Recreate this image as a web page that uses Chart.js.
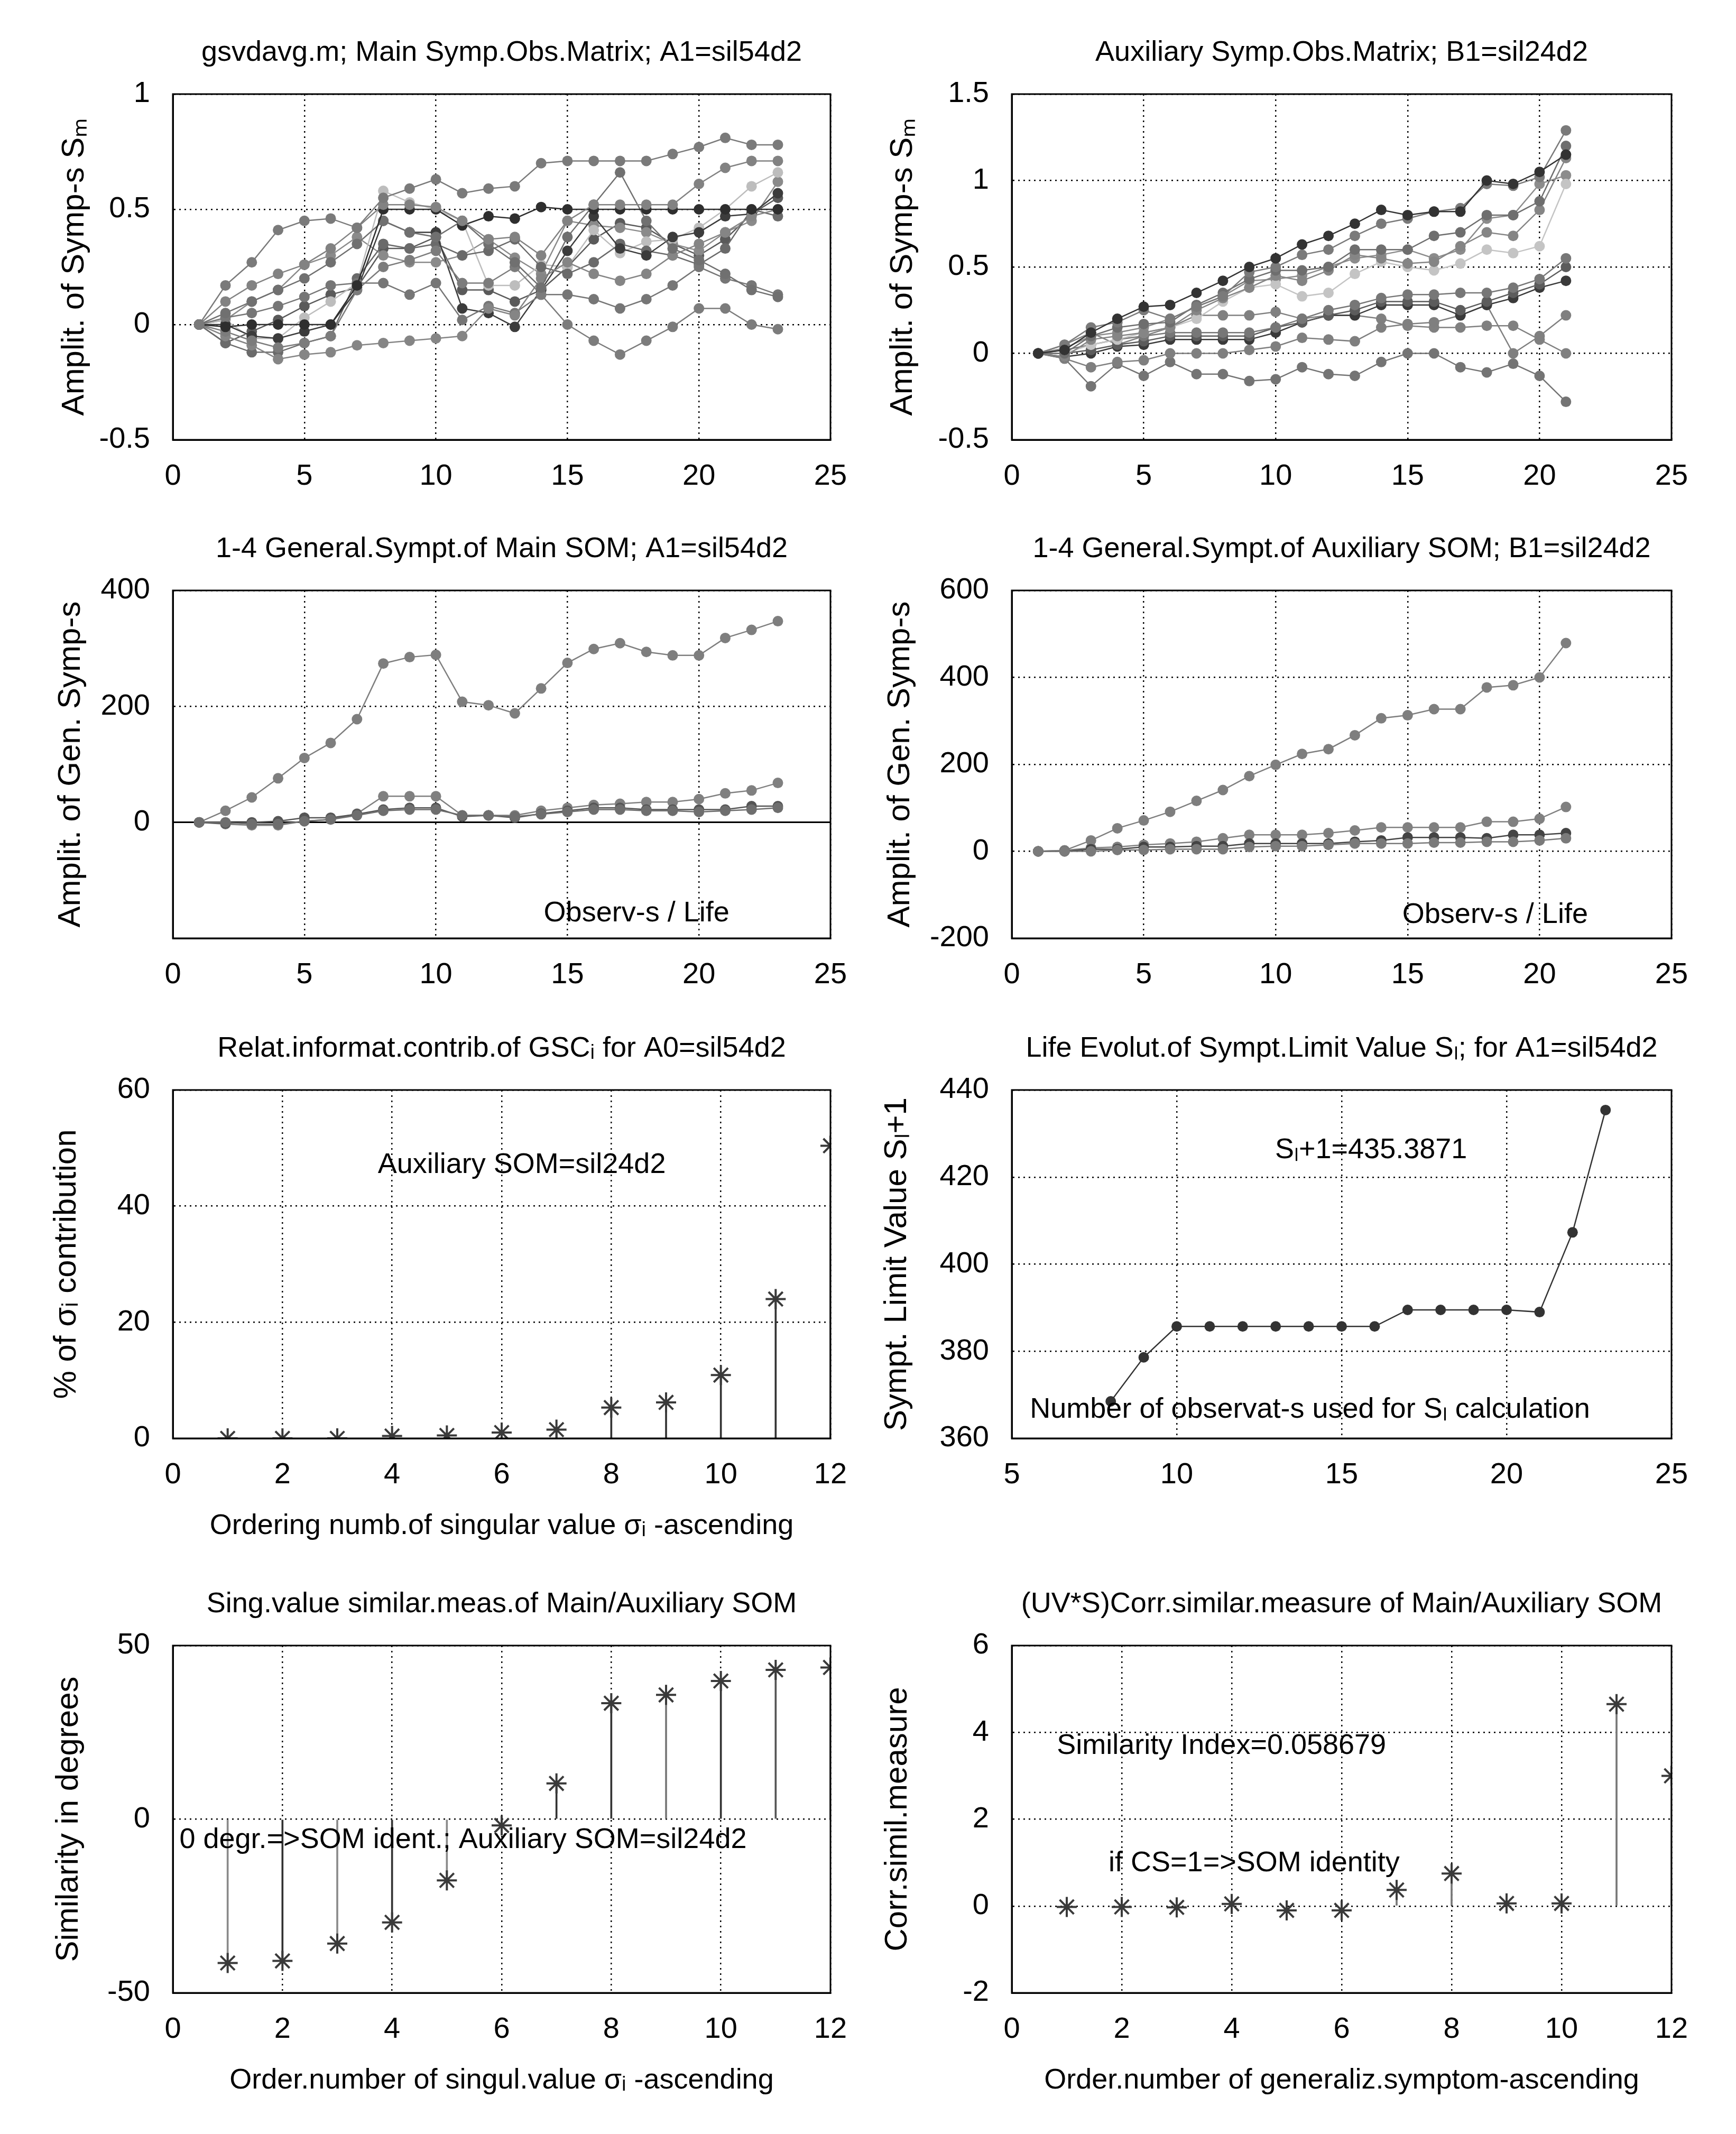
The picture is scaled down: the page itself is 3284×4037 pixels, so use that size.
<!DOCTYPE html>
<html>
<head>
<meta charset="utf-8">
<script src="https://cdn.jsdelivr.net/npm/chart.js@4.4.1/dist/chart.umd.min.js"></script>
<style>
  html, body { margin: 0; padding: 0; background: #fff; }
  body { position: relative; width: 3284px; height: 4037px; overflow: hidden; }
</style>
</head>
<body>
<script>
// ---------------- DATA ----------------
const obsMain = [1,2,3,4,5,6,7,8,9,10,11,12,13,14,15,16,17,18,19,20,21,22,23];
const obsAux  = [1,2,3,4,5,6,7,8,9,10,11,12,13,14,15,16,17,18,19,20,21];

// Panel 1: main symptom observation matrix (12 symptoms)
const mainS1  = [0,0.17,0.27,0.41,0.45,0.46,0.42,0.55,0.59,0.63,0.57,0.59,0.60,0.70,0.71,0.71,0.71,0.71,0.74,0.77,0.81,0.78,0.78];
const mainS2  = [0,0.10,0.17,0.22,0.26,0.33,0.42,0.52,0.52,0.51,0.45,0.37,0.38,0.30,0.45,0.52,0.52,0.52,0.52,0.61,0.68,0.71,0.71];
const mainS3  = [0,-0.01,0.00,0.00,0.00,0.00,0.17,0.50,0.50,0.50,0.43,0.47,0.46,0.51,0.50,0.50,0.50,0.50,0.50,0.50,0.50,0.50,0.50];
const mainS4  = [0,0.05,0.10,0.15,0.20,0.27,0.35,0.45,0.40,0.38,0.45,0.35,0.27,0.16,0.38,0.52,0.66,0.45,0.33,0.28,0.22,0.15,0.12];
const mainS5  = [0,-0.03,-0.07,-0.10,-0.08,-0.05,0.15,0.25,0.28,0.32,0.18,0.18,0.25,0.13,0.00,-0.07,-0.13,-0.07,-0.01,0.07,0.07,0.00,-0.02];
const mainS6  = [0,-0.05,-0.09,-0.15,-0.13,-0.12,-0.09,-0.08,-0.07,-0.06,-0.05,0.07,0.04,0.20,0.27,0.22,0.19,0.22,0.30,0.35,0.40,0.47,0.50];
const mainS7  = [0,0.03,0.05,0.08,0.12,0.17,0.18,0.18,0.13,0.18,0.02,0.08,0.05,0.13,0.13,0.11,0.07,0.11,0.17,0.25,0.20,0.17,0.13];
const mainS8  = [0,0.00,-0.05,-0.06,-0.03,0.00,0.15,0.45,0.40,0.40,0.07,0.05,-0.01,0.15,0.32,0.47,0.33,0.30,0.38,0.40,0.47,0.48,0.57];
const mainS9  = [0,-0.08,-0.12,-0.12,-0.08,-0.05,0.20,0.35,0.33,0.35,0.30,0.32,0.37,0.25,0.22,0.27,0.35,0.32,0.30,0.26,0.33,0.50,0.47];
const mainS10 = [0,0.02,-0.06,-0.06,0.03,0.10,0.18,0.58,0.53,0.50,0.45,0.17,0.17,0.26,0.25,0.41,0.31,0.36,0.37,0.42,0.50,0.60,0.66];
const mainS11 = [0,0.02,0.10,0.15,0.26,0.30,0.38,0.30,0.27,0.27,0.30,0.37,0.29,0.22,0.45,0.43,0.42,0.40,0.35,0.32,0.40,0.45,0.62];
const mainS12 = [0,-0.08,-0.03,0.02,0.08,0.13,0.16,0.33,0.33,0.38,0.15,0.15,0.10,0.15,0.25,0.37,0.44,0.42,0.35,0.30,0.37,0.48,0.55];

// Panel 2: auxiliary symptom observation matrix (12 symptoms)
const auxS1  = [0,0.02,0.12,0.20,0.27,0.28,0.35,0.42,0.50,0.55,0.63,0.68,0.75,0.83,0.80,0.82,0.82,1.00,0.98,1.05,1.15];
const auxS2  = [0,0.05,0.15,0.18,0.25,0.20,0.27,0.33,0.47,0.50,0.57,0.60,0.68,0.75,0.78,0.82,0.84,0.98,0.97,1.02,1.29];
const auxS3  = [0,0.00,0.10,0.15,0.17,0.18,0.28,0.35,0.43,0.48,0.48,0.50,0.60,0.60,0.60,0.68,0.70,0.80,0.80,0.88,1.20];
const auxS4  = [0,-0.02,0.08,0.10,0.12,0.15,0.25,0.32,0.38,0.45,0.42,0.48,0.57,0.55,0.52,0.53,0.62,0.70,0.68,0.83,1.13];
const auxS5  = [0,0.00,0.05,0.08,0.12,0.15,0.20,0.30,0.38,0.40,0.33,0.35,0.46,0.53,0.50,0.48,0.52,0.60,0.58,0.62,0.98];
const auxS6  = [0,0.03,0.10,0.12,0.15,0.20,0.27,0.33,0.42,0.43,0.45,0.50,0.55,0.57,0.60,0.55,0.60,0.78,0.80,0.98,1.03];
const auxS7  = [0,0.02,0.05,0.08,0.10,0.12,0.12,0.12,0.12,0.15,0.20,0.25,0.28,0.32,0.34,0.34,0.35,0.35,0.38,0.43,0.55];
const auxS8  = [0,0.00,0.02,0.05,0.07,0.10,0.10,0.10,0.10,0.15,0.18,0.22,0.25,0.30,0.30,0.30,0.25,0.30,0.35,0.40,0.50];
const auxS9  = [0,-0.02,0.00,0.04,0.05,0.08,0.08,0.08,0.08,0.12,0.18,0.22,0.22,0.28,0.28,0.28,0.22,0.28,0.32,0.38,0.42];
const auxS10 = [0,-0.03,-0.08,-0.05,-0.04,0.00,0.00,0.00,0.02,0.04,0.09,0.08,0.07,0.15,0.17,0.18,0.22,0.28,0.00,0.10,0.22];
const auxS11 = [0,0.05,0.12,0.05,0.10,0.15,0.22,0.22,0.22,0.24,0.20,0.22,0.22,0.20,0.16,0.15,0.15,0.16,0.16,0.08,0.00];
const auxS12 = [0,-0.03,-0.19,-0.06,-0.13,-0.05,-0.12,-0.12,-0.16,-0.15,-0.08,-0.12,-0.13,-0.05,0.00,0.00,-0.08,-0.11,-0.06,-0.13,-0.28];

// Panel 3: 1-4 generalized symptoms of main SOM
const mainGen1 = [0,20,43,76,111,137,178,274,285,289,208,202,188,231,275,299,309,294,288,288,318,332,347];
const mainGen2 = [0,-3,-5,-5,2,5,15,45,45,45,12,12,12,20,25,30,32,35,35,40,50,55,68];
const mainGen3 = [0,-2,0,2,8,8,14,22,25,25,10,12,8,15,20,25,25,22,22,22,22,28,28];
const mainGen4 = [0,0,-3,-3,2,5,12,20,22,22,12,12,10,14,18,22,22,20,20,18,20,22,25];

// Panel 4: 1-4 generalized symptoms of auxiliary SOM
const auxGen1 = [0,2,25,53,71,91,116,141,173,199,224,235,267,306,313,327,327,377,382,400,479];
const auxGen2 = [0,2,8,10,15,18,22,30,38,38,38,42,48,55,55,55,55,68,68,75,102];
const auxGen3 = [0,0,5,5,10,10,12,12,18,18,18,18,22,25,32,32,32,30,38,38,42];
const auxGen4 = [0,0,0,3,3,5,5,5,10,12,12,15,18,18,18,20,20,22,22,25,30];

// Panel 5: relative information contribution of singular values
const singOrder = [1,2,3,4,5,6,7,8,9,10,11,12];
const sigmaContribPct = [0.0,0.0,0.0,0.4,0.5,1.0,1.5,5.3,6.2,10.9,24.0,50.4];

// Panel 6: life evolution of symptom limit value
const limitObs = [8,9,10,11,12,13,14,15,16,17,18,19,20,21,22,23];
const limitValue = [368.5,378.6,385.7,385.7,385.7,385.7,385.7,385.7,385.7,389.5,389.5,389.5,389.5,389.0,407.3,435.4];

// Panel 7: singular value similarity (degrees)
const similarityDeg = [-41.4,-40.8,-35.8,-29.7,-17.6,-1.8,10.3,33.4,35.8,39.8,43.0,43.7];

// Panel 8: correlation similarity measure
const genSymOrder = [1,2,3,4,5,6,7,8,9,10,11,12];
const corrSimil = [-0.02,-0.02,-0.03,0.05,-0.10,-0.10,0.37,0.75,0.06,0.06,4.65,3.00];

// ---------------- STYLE / HELPERS ----------------
const FN = "'Liberation Sans', Arial, sans-serif";
const FW = "'Liberation Sans', Arial, sans-serif";
const TS = 54, TLH = TS * 1.2;   // title
const YS = 60, YLH = YS * 1.2;   // y title
const XS = 54, XLH = XS * 1.2;   // x title
const TK = 56;                   // tick labels
const ANN = 54;                  // annotation text

function xy(xs, ys) { return xs.map((x, i) => ({x: x, y: ys[i]})); }

function lineSet(xs, ys, color) {
  return {type: 'scatter', data: xy(xs, ys), showLine: true, borderColor: color, borderWidth: 2.5,
          pointRadius: 10, pointBackgroundColor: color, pointBorderColor: color, pointBorderWidth: 0};
}
function stemBars(xs, ys, colors) {
  return {type: 'bar', data: xy(xs, ys), backgroundColor: colors, borderWidth: 0, barThickness: 3, grouped: false};
}
function stars(xs, ys, colors) {
  return {type: 'scatter', data: xy(xs, ys), showLine: false, pointStyle: 'star', pointRadius: 19,
          pointBorderColor: colors, pointBorderWidth: 4, pointBackgroundColor: colors};
}

const framePlugin = {
  id: 'frame',
  afterDraw(chart) {
    const a = chart.chartArea, ctx = chart.ctx;
    ctx.save();
    ctx.strokeStyle = '#000'; ctx.lineWidth = 3;
    ctx.strokeRect(a.left, a.top, a.right - a.left, a.bottom - a.top);
    ctx.restore();
  }
};
const annotPlugin = {
  id: 'annot',
  afterDatasetsDraw(chart) {
    const list = (chart.config.options.annotations || []);
    const ctx = chart.ctx, xs = chart.scales.x, ys = chart.scales.y;
    ctx.save();
    ctx.fillStyle = '#000';
    ctx.font = ANN + 'px ' + FN;
    ctx.textBaseline = 'middle';
    ctx.textAlign = 'left';
    list.forEach(t => ctx.fillText(t.text, xs.getPixelForValue(t.x), ys.getPixelForValue(t.y)));
    ctx.restore();
  }
};

const DOT = [3, 7];

function build(sp) {
  const cv = document.createElement('canvas');
  cv.width = sp.w; cv.height = sp.h;
  cv.style.position = 'absolute';
  cv.style.left = sp.x + 'px'; cv.style.top = sp.y + 'px';
  cv.style.width = sp.w + 'px'; cv.style.height = sp.h + 'px';
  document.body.appendChild(cv);

  const W = sp.yDist + YLH / 2;
  const H = sp.xTitle ? 166 + XLH / 2 : 110;
  const pad = {
    left: sp.pLeft - W,
    right: sp.w - sp.pRight,
    top: sp.pTop - 78 - TLH / 2,
    bottom: sp.h - sp.pBottom - H
  };
  const yDash = sp.zeroSolid ? (c => (c.tick && c.tick.value === 0) ? [] : DOT) : DOT;
  const yWidth = sp.zeroSolid ? (c => (c.tick && c.tick.value === 0) ? 3 : 2.5) : 2.5;

  new Chart(cv.getContext('2d'), {
    type: 'scatter',
    data: {datasets: sp.datasets},
    options: {
      responsive: false, animation: false, devicePixelRatio: 1,
      annotations: sp.annotations || [],
      layout: {padding: pad},
      plugins: {
        legend: {display: false}, tooltip: {enabled: false},
        title: {display: true, text: sp.title, color: '#000', fullSize: false,
                font: {family: FN, size: TS, weight: 'normal'},
                padding: {top: 0, bottom: 78 - TLH / 2}}
      },
      scales: {
        x: {
          type: 'linear', min: sp.xMin, max: sp.xMax, offset: false,
          ticks: {stepSize: sp.xStep, color: '#000', font: {family: FN, size: TK}, padding: 36,
                  maxRotation: 0, autoSkip: false},
          grid: {color: '#000', lineWidth: 2.5, drawTicks: false, offset: false},
          border: {display: true, color: '#000', width: 3, dash: DOT},
          title: sp.xTitle ? {display: true, text: sp.xTitle, color: '#000',
                  font: {family: FN, size: XS}, padding: {top: 0, bottom: 0}} : {display: false},
          afterFit: s => { s.height = H; }
        },
        y: {
          type: 'linear', min: sp.yMin, max: sp.yMax,
          ticks: {stepSize: sp.yStep, color: '#000', font: {family: FN, size: TK}, padding: 43,
                  callback: sp.yTickCb || (v => v)},
          grid: {color: '#000', lineWidth: yWidth, drawTicks: false},
          border: {display: true, color: '#000', width: 3, dash: yDash},
          title: {display: true, text: sp.yTitle, color: '#000',
                  font: {family: FW, size: YS}, padding: {top: 0, bottom: 0}},
          afterFit: s => { s.width = W; }
        }
      }
    },
    plugins: [annotPlugin, framePlugin]
  });
}

// ---------------- LAYOUT ----------------
const COLW = 1642;
const rows = [
  {y: 0,    h: 945,  top: 178,  bottom: 832},
  {y: 945,  h: 955,  top: 1117, bottom: 1775},
  {y: 1900, h: 1060, top: 2062, bottom: 2721},
  {y: 2960, h: 1077, top: 3113, bottom: 3770}
];
const cols = [
  {x: 0,    left: 327,  right: 1571},
  {x: 1642, left: 1914, right: 3162}
];
function place(r, c) {
  const R = rows[r], C = cols[c];
  return {x: C.x, y: R.y, w: COLW, h: R.h,
          pLeft: C.left - C.x, pRight: C.right - C.x,
          pTop: R.top - R.y, pBottom: R.bottom - R.y};
}

const mainCols = ['#7a7a7a','#828282','#2e2e2e','#707070','#7c7c7c','#858585','#767676','#3c3c3c','#6a6a6a','#bdbdbd','#8a8a8a','#5a5a5a'];
const auxCols  = ['#333333','#7a7a7a','#6e6e6e','#858585','#c4c4c4','#8c8c8c','#777777','#5c5c5c','#3a3a3a','#7f7f7f','#808080','#747474'];
const mainSeries = [mainS1,mainS2,mainS3,mainS4,mainS5,mainS6,mainS7,mainS8,mainS9,mainS10,mainS11,mainS12];
const auxSeries  = [auxS1,auxS2,auxS3,auxS4,auxS5,auxS6,auxS7,auxS8,auxS9,auxS10,auxS11,auxS12];

// Panel 1
build(Object.assign(place(0, 0), {
  title: 'gsvdavg.m; Main Symp.Obs.Matrix; A1=sil54d2',
  yTitle: 'Amplit. of Symp-s S\u2098', yDist: 186,
  xMin: 0, xMax: 25, xStep: 5, yMin: -0.5, yMax: 1, yStep: 0.5,
  datasets: mainSeries.map((s, i) => lineSet(obsMain, s, mainCols[i]))
}));
// Panel 2
build(Object.assign(place(0, 1), {
  title: 'Auxiliary Symp.Obs.Matrix; B1=sil24d2',
  yTitle: 'Amplit. of Symp-s S\u2098', yDist: 206,
  xMin: 0, xMax: 25, xStep: 5, yMin: -0.5, yMax: 1.5, yStep: 0.5,
  datasets: auxSeries.map((s, i) => lineSet(obsAux, s, auxCols[i]))
}));
// Panel 3
build(Object.assign(place(1, 0), {
  title: '1-4 General.Sympt.of Main SOM; A1=sil54d2',
  yTitle: 'Amplit. of Gen. Symp-s', yDist: 193,
  xMin: 0, xMax: 25, xStep: 5, yMin: -200, yMax: 400, yStep: 200, zeroSolid: true,
  yTickCb: v => (v === -200 ? '' : v),
  datasets: [lineSet(obsMain, mainGen4, '#6e6e6e'), lineSet(obsMain, mainGen3, '#555555'),
             lineSet(obsMain, mainGen2, '#808080'), lineSet(obsMain, mainGen1, '#7e7e7e')],
  annotations: [{text: 'Observ-s / Life', x: 14.1, y: -157}]
}));
// Panel 4
build(Object.assign(place(1, 1), {
  title: '1-4 General.Sympt.of Auxiliary SOM; B1=sil24d2',
  yTitle: 'Amplit. of Gen. Symp-s', yDist: 211,
  xMin: 0, xMax: 25, xStep: 5, yMin: -200, yMax: 600, yStep: 200,
  datasets: [lineSet(obsAux, auxGen4, '#7a7a7a'), lineSet(obsAux, auxGen3, '#444444'),
             lineSet(obsAux, auxGen2, '#808080'), lineSet(obsAux, auxGen1, '#7e7e7e')],
  annotations: [{text: 'Observ-s / Life', x: 14.8, y: -147}]
}));
// Panel 5
build(Object.assign(place(2, 0), {
  title: 'Relat.informat.contrib.of GSC\u1D62 for A0=sil54d2',
  yTitle: '% of \u03C3\u1D62 contribution', yDist: 201,
  xTitle: 'Ordering numb.of singular value \u03C3\u1D62 -ascending',
  xMin: 0, xMax: 12, xStep: 2, yMin: 0, yMax: 60, yStep: 20,
  datasets: [stars(singOrder, sigmaContribPct, '#3a3a3a'), stemBars(singOrder, sigmaContribPct, '#333333')],
  annotations: [{text: 'Auxiliary SOM=sil24d2', x: 3.74, y: 47.1}]
}));
// Panel 6
build(Object.assign(place(2, 1), {
  title: 'Life Evolut.of Sympt.Limit Value S\u2097; for A1=sil54d2',
  yTitle: 'Sympt. Limit Value S\u2097+1', yDist: 217,
  xMin: 5, xMax: 25, xStep: 5, yMin: 360, yMax: 440, yStep: 20,
  datasets: [lineSet(limitObs, limitValue, '#333333')],
  annotations: [{text: 'S\u2097+1=435.3871', x: 12.98, y: 426.2},
                {text: 'Number of observat-s used for S\u2097 calculation', x: 5.55, y: 366.5}]
}));
// Panel 7
const simColors = ['#8a8a8a','#333333','#8a8a8a','#333333','#8a8a8a','#555555','#333333','#333333','#777777','#333333','#555555','#333333'];
build(Object.assign(place(3, 0), {
  title: 'Sing.value similar.meas.of Main/Auxiliary SOM',
  yTitle: 'Similarity in degrees', yDist: 197,
  xTitle: 'Order.number of singul.value \u03C3\u1D62 -ascending',
  xMin: 0, xMax: 12, xStep: 2, yMin: -50, yMax: 50, yStep: 50,
  datasets: [stars(singOrder, similarityDeg, '#3a3a3a'), stemBars(singOrder, similarityDeg, simColors)],
  annotations: [{text: '0 degr.=>SOM ident.; Auxiliary SOM=sil24d2', x: 0.12, y: -6.1}]
}));
// Panel 8
build(Object.assign(place(3, 1), {
  title: '(UV*S)Corr.similar.measure of Main/Auxiliary SOM',
  yTitle: 'Corr.simil.measure', yDist: 216,
  xTitle: 'Order.number of generaliz.symptom-ascending',
  xMin: 0, xMax: 12, xStep: 2, yMin: -2, yMax: 6, yStep: 2,
  datasets: [stars(genSymOrder, corrSimil, '#3a3a3a'), stemBars(genSymOrder, corrSimil, '#777777')],
  annotations: [{text: 'Similarity Index=0.058679', x: 0.82, y: 3.68},
                {text: 'if CS=1=>SOM identity', x: 1.76, y: 0.98}]
}));
</script>
</body>
</html>
